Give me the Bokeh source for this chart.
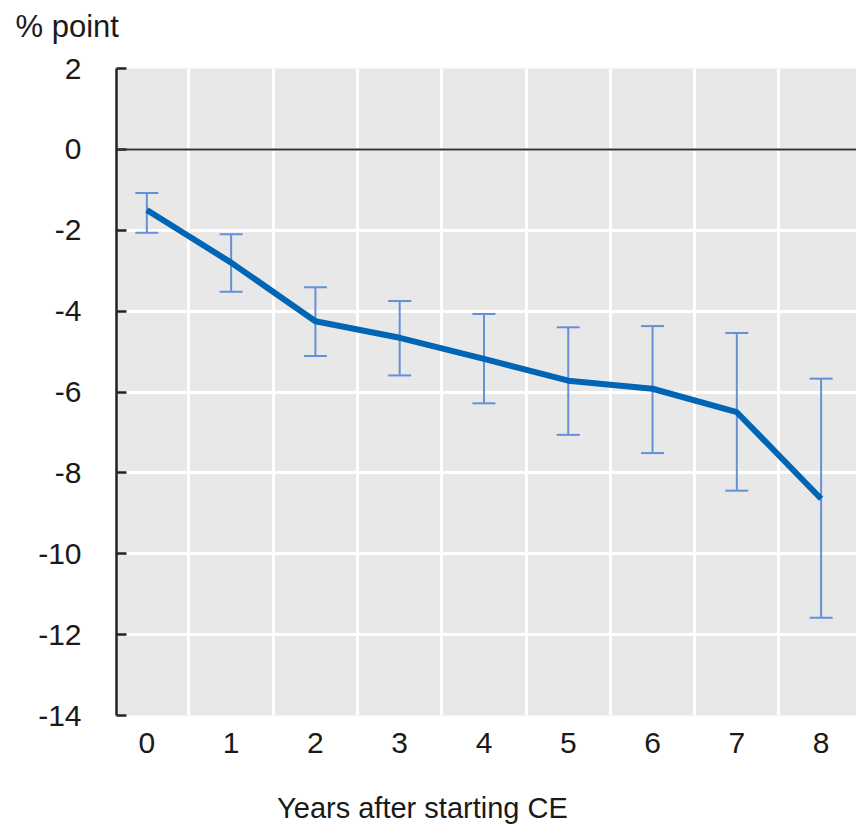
from bokeh.plotting import figure
from bokeh.models import (Range1d, FixedTicker, Whisker, TeeHead, ColumnDataSource,
                          Span, LinearAxis, CustomJSTickFormatter)
from bokeh.embed import file_html
from bokeh.resources import INLINE

years = [0, 1, 2, 3, 4, 5, 6, 7, 8]
effect = [-1.5, -2.8, -4.25, -4.66, -5.18, -5.72, -5.92, -6.5, -8.64]
upper = [-1.08, -2.1, -3.41, -3.75, -4.07, -4.4, -4.37, -4.54, -5.67]
lower = [-2.06, -3.52, -5.11, -5.59, -6.28, -7.06, -7.51, -8.44, -11.58]
y_ticks = [-14, -12, -10, -8, -6, -4, -2, 0, 2]
y_title = "% point"
x_title = "Years after starting CE"

FONT = "Liberation Sans"
TXT = "#1a1a1a"

src = ColumnDataSource(dict(x=years, y=effect, upper=upper, lower=lower))

p = figure(width=856, height=834, output_backend="svg", toolbar_location=None,
           x_range=Range1d(-0.36, 8.42), y_range=Range1d(-14, 2),
           min_border_left=116, min_border_right=0, min_border_top=68,
           min_border_bottom=119)
p.outline_line_color = None
p.background_fill_color = "#e8e8e8"
p.border_fill_color = "white"

# grids
p.xgrid.ticker = FixedTicker(ticks=[0.5, 1.5, 2.5, 3.5, 4.5, 5.5, 6.5, 7.5])
p.xgrid.grid_line_color = "white"
p.xgrid.grid_line_width = 3
p.ygrid.ticker = FixedTicker(ticks=y_ticks)
p.ygrid.grid_line_color = "white"
p.ygrid.grid_line_width = 3

# axes
p.xaxis.ticker = FixedTicker(ticks=years)
p.xaxis.axis_line_color = None
p.xaxis.major_tick_line_color = None
p.xaxis.minor_tick_line_color = None
p.xaxis.major_label_standoff = 11
p.xaxis.major_label_text_font = FONT
p.xaxis.major_label_text_font_size = "30px"
p.xaxis.major_label_text_color = TXT

p.yaxis.ticker = FixedTicker(ticks=y_ticks)
p.yaxis.major_label_overrides = {t: str(t) for t in y_ticks}
p.yaxis.axis_line_color = "#222222"
p.yaxis.axis_line_width = 2.5
p.yaxis.major_tick_line_color = "#222222"
p.yaxis.major_tick_line_width = 2.5
p.yaxis.major_tick_in = 10
p.yaxis.major_tick_out = 0
p.yaxis.minor_tick_line_color = None
p.yaxis.major_label_standoff = 35
p.yaxis.major_label_text_font = FONT
p.yaxis.major_label_text_font_size = "30px"
p.yaxis.major_label_text_color = TXT

# unit label at the top-left (an extra tickless axis carrying one label,
# padded with trailing no-break spaces so it sits left of the plot edge)
top_ax = LinearAxis(ticker=FixedTicker(ticks=[-0.331]),
                    formatter=CustomJSTickFormatter(
                        args=dict(t=y_title + "\u00a0" * 12), code="return t"),
                    axis_line_color=None, major_tick_line_color=None,
                    minor_tick_line_color=None, major_label_standoff=19,
                    major_label_text_font=FONT, major_label_text_font_size="31px",
                    major_label_text_color=TXT)
p.add_layout(top_ax, "above")

# x-axis title (an extra tickless axis carrying one label)
bot_ax = LinearAxis(ticker=FixedTicker(ticks=[3.27]),
                    formatter=CustomJSTickFormatter(args=dict(t=x_title), code="return t"),
                    axis_line_color=None, major_tick_line_color=None,
                    minor_tick_line_color=None, major_label_standoff=30,
                    major_label_text_font=FONT, major_label_text_font_size="29px",
                    major_label_text_color=TXT)
p.add_layout(bot_ax, "below")

# zero line
p.add_layout(Span(location=0, dimension="width", line_color="#333333", line_width=2))

# error bars
w = Whisker(base="x", upper="upper", lower="lower", source=src,
            line_color="#6590d6", line_width=2,
            upper_head=TeeHead(size=23, line_color="#6590d6", line_width=2),
            lower_head=TeeHead(size=23, line_color="#6590d6", line_width=2))
p.add_layout(w)

# main line
p.line("x", "y", source=src, line_color="#0065b5", line_width=6)

open("out.html", "w").write(file_html(p, INLINE))
